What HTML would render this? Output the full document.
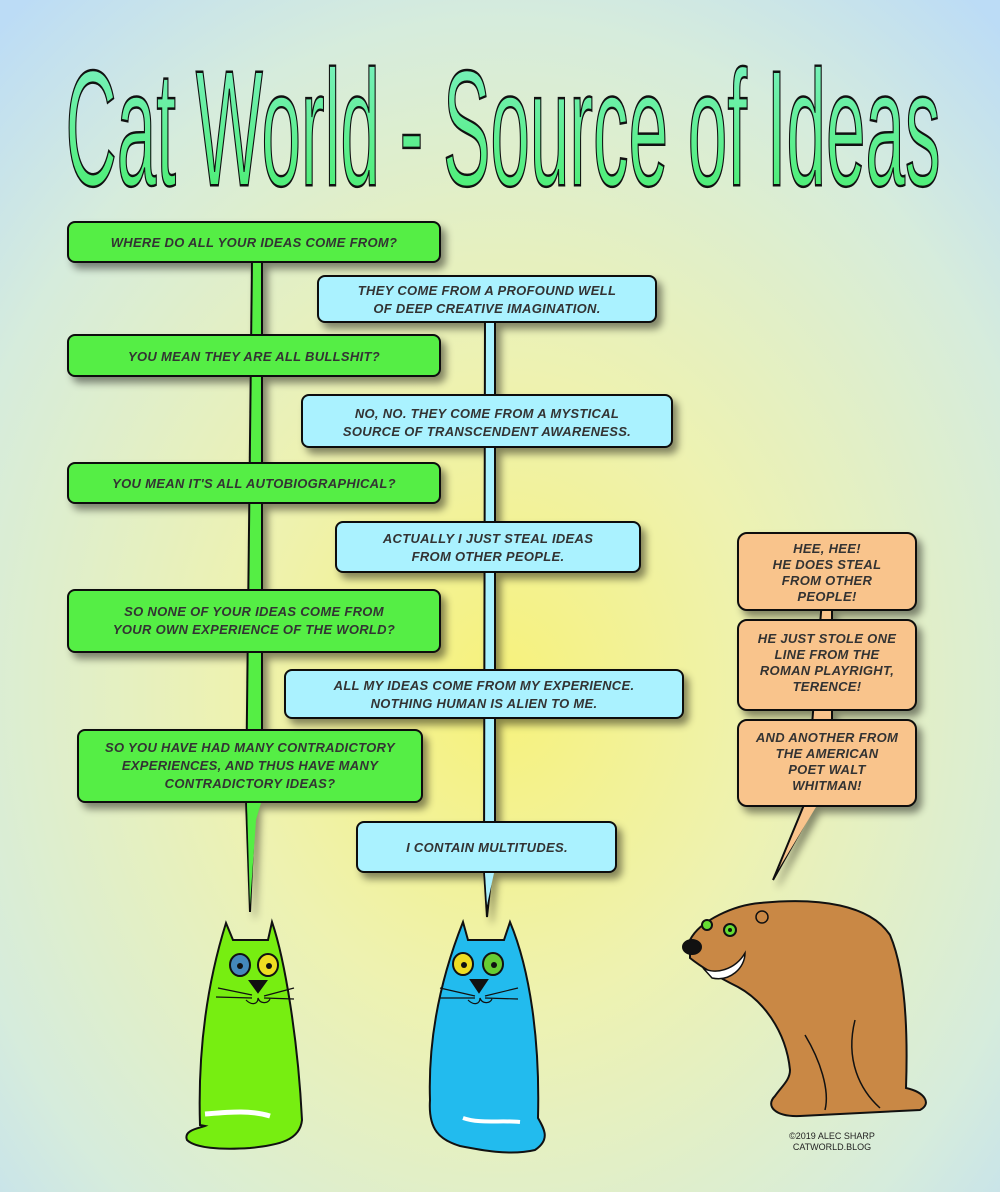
<!DOCTYPE html>
<html><head><meta charset="utf-8"><style>
html,body{margin:0;padding:0;width:1000px;height:1192px;overflow:hidden}
svg{display:block}
.t{font-family:"Liberation Sans",sans-serif;font-weight:bold;font-style:italic;font-size:13px;fill:#333;text-anchor:middle;letter-spacing:0.3px}
</style></head><body>
<svg width="1000" height="1192" viewBox="0 0 1000 1192" xmlns="http://www.w3.org/2000/svg">
<defs>
<radialGradient id="bg" cx="0.5" cy="0.58" r="0.75">
<stop offset="0" stop-color="#f7f27a"/>
<stop offset="0.35" stop-color="#eef2b0"/>
<stop offset="0.75" stop-color="#d6ecdc"/>
<stop offset="1" stop-color="#bcdcf6"/>
</radialGradient>
<linearGradient id="tg" x1="0" y1="0" x2="0" y2="1">
<stop offset="0" stop-color="#7ff0c8"/><stop offset="1" stop-color="#44ee66"/>
</linearGradient>
<filter id="sh" x="-10%" y="-10%" width="130%" height="140%">
<feDropShadow dx="5" dy="6" stdDeviation="4" flood-color="#000" flood-opacity="0.45"/>
</filter>
</defs>
<rect width="1000" height="1192" fill="url(#bg)"/>

<text x="503" y="185" font-family="'Liberation Sans Narrow','Liberation Sans',sans-serif" font-size="100" textLength="875" lengthAdjust="spacingAndGlyphs" text-anchor="middle" transform="translate(0,-120) scale(1,1.65)" style="transform-origin:0 0" fill="url(#tg)" stroke="#111" stroke-width="1.5">Cat World - Source of Ideas</text>

<!-- green column -->
<g filter="url(#sh)" fill="#55ee44" stroke="#111" stroke-width="2">
<path d="M252,260 L262,260 L262,800 L255,800 L250,912 L246,800 Z"/>
<rect x="68" y="222" width="372" height="40" rx="7"/>
<rect x="68" y="335" width="372" height="41" rx="7"/>
<rect x="68" y="463" width="372" height="40" rx="7"/>
<rect x="68" y="590" width="372" height="62" rx="7"/>
<rect x="78" y="730" width="344" height="72" rx="7"/>
</g>
<g fill="#55ee44"><rect x="253" y="263" width="8" height="71"/><rect x="253" y="377" width="8" height="85"/><rect x="253" y="504" width="8" height="85"/><rect x="253" y="653" width="8" height="76"/><path d="M247,803 L261,803 L256,820 L250,905 Z"/></g>

<!-- blue column -->
<g filter="url(#sh)" fill="#aaf2ff" stroke="#111" stroke-width="2">
<path d="M485,320 L495,320 L495,870 L492,870 L487,917 L484,870 Z"/>
<rect x="318" y="276" width="338" height="46" rx="7"/>
<rect x="302" y="395" width="370" height="52" rx="7"/>
<rect x="336" y="522" width="304" height="50" rx="7"/>
<rect x="285" y="670" width="398" height="48" rx="7"/>
<rect x="357" y="822" width="259" height="50" rx="7"/>
</g>
<g fill="#aaf2ff"><rect x="486" y="323" width="8" height="71"/><rect x="486" y="448" width="8" height="73"/><rect x="486" y="573" width="8" height="96"/><rect x="486" y="719" width="8" height="102"/><path d="M485,873 L494,873 L487,905 Z"/></g>

<!-- orange column -->
<g filter="url(#sh)" fill="#f9c48c" stroke="#111" stroke-width="2">
<path d="M822,600 L832,600 L832,800 L818,800 L773,880 L806,800 Z"/>
<rect x="738" y="533" width="178" height="77" rx="9"/>
<rect x="738" y="620" width="178" height="90" rx="9"/>
<rect x="738" y="720" width="178" height="86" rx="9"/>
</g>
<g fill="#f9c48c"><rect x="823" y="611" width="8" height="8"/><rect x="823" y="711" width="8" height="8"/><path d="M808,807 L816,807 L778,870 Z"/></g>

<!-- texts -->
<g class="t">
<text x="254" y="247">WHERE DO ALL YOUR IDEAS COME FROM?</text>
<text x="254" y="361">YOU MEAN THEY ARE ALL BULLSHIT?</text>
<text x="254" y="488">YOU MEAN IT'S ALL AUTOBIOGRAPHICAL?</text>
<text x="254" y="616">SO NONE OF YOUR IDEAS COME FROM</text>
<text x="254" y="634">YOUR OWN EXPERIENCE OF THE WORLD?</text>
<text x="250" y="752">SO YOU HAVE HAD MANY CONTRADICTORY</text>
<text x="250" y="770">EXPERIENCES, AND THUS HAVE MANY</text>
<text x="250" y="788">CONTRADICTORY IDEAS?</text>
<text x="487" y="295">THEY COME FROM A PROFOUND WELL</text>
<text x="487" y="313">OF DEEP CREATIVE IMAGINATION.</text>
<text x="487" y="418">NO, NO. THEY COME FROM A MYSTICAL</text>
<text x="487" y="436">SOURCE OF TRANSCENDENT AWARENESS.</text>
<text x="488" y="543">ACTUALLY I JUST STEAL IDEAS</text>
<text x="488" y="561">FROM OTHER PEOPLE.</text>
<text x="484" y="690">ALL MY IDEAS COME FROM MY EXPERIENCE.</text>
<text x="484" y="708">NOTHING HUMAN IS ALIEN TO ME.</text>
<text x="487" y="852">I CONTAIN MULTITUDES.</text>
<text x="827" y="553">HEE, HEE!</text>
<text x="827" y="569">HE DOES STEAL</text>
<text x="827" y="585">FROM OTHER</text>
<text x="827" y="601">PEOPLE!</text>
<text x="827" y="643">HE JUST STOLE ONE</text>
<text x="827" y="659">LINE FROM THE</text>
<text x="827" y="675">ROMAN PLAYRIGHT,</text>
<text x="827" y="691">TERENCE!</text>
<text x="827" y="742">AND ANOTHER FROM</text>
<text x="827" y="758">THE AMERICAN</text>
<text x="827" y="774">POET WALT</text>
<text x="827" y="790">WHITMAN!</text>
</g>

<!-- green cat -->
<g stroke="#111" stroke-width="2">
<path d="M226,923 L233,940 L268,940 L272,922 C285,960 298,1040 302,1120 C300,1140 280,1145 250,1148 C220,1150 195,1148 187,1140 C183,1130 200,1128 205,1126 L200,1125 C198,1060 205,990 226,923 Z" fill="#77ee11"/>
<path d="M205,1114 C230,1112 250,1110 270,1116" fill="none" stroke="#fff" stroke-width="5"/>
<ellipse cx="240" cy="965" rx="10" ry="11" fill="#4488bb"/><circle cx="240" cy="966" r="3" fill="#111" stroke="none"/>
<ellipse cx="268" cy="965" rx="10" ry="11" fill="#eedd22"/><circle cx="269" cy="966" r="3" fill="#111" stroke="none"/>
<path d="M250,981 L266,981 L258,992 Z" fill="#111"/>
<path d="M218,988 L252,995 M216,997 L252,998 M264,996 L294,988 M264,998 L294,999 M246,1000 C252,1006 258,1004 258,998 C260,1004 268,1004 270,999" fill="none" stroke-width="1.2"/>
</g>
<!-- blue cat -->
<g stroke="#111" stroke-width="2">
<path d="M463,922 L468,940 L504,940 L510,922 C530,970 540,1040 538,1118 C545,1130 550,1140 535,1150 C510,1156 480,1150 460,1146 C440,1140 428,1130 430,1100 C428,1040 440,980 463,922 Z" fill="#22bbee"/>
<path d="M463,1118 C480,1124 500,1120 520,1122" fill="none" stroke="#fff" stroke-width="4"/>
<ellipse cx="463" cy="964" rx="10" ry="11" fill="#eedd22"/><circle cx="464" cy="965" r="3" fill="#111" stroke="none"/>
<ellipse cx="493" cy="964" rx="10" ry="11" fill="#66cc33"/><circle cx="494" cy="965" r="3" fill="#111" stroke="none"/>
<path d="M471,980 L487,980 L479,992 Z" fill="#111"/>
<path d="M440,988 L475,996 M440,998 L475,998 M485,996 L518,988 M485,998 L518,999 M468,1000 C474,1006 480,1004 480,998 C482,1004 490,1004 492,999" fill="none" stroke-width="1.2"/>
</g>

<!-- bear -->
<g stroke="#111" stroke-width="2">
<path d="M690,940 C700,920 735,905 760,903 C820,897 870,905 890,935 C905,970 908,1030 906,1088 C925,1092 932,1104 920,1110 L800,1116 C775,1117 765,1106 775,1096 C782,1086 790,1080 790,1070 C786,1030 762,1000 738,987 C716,976 700,966 690,958 Z" fill="#c98845"/>
<path d="M805,1035 C820,1060 830,1090 825,1110 M855,1020 C845,1060 860,1090 880,1108" fill="none" stroke-width="1.5"/>
<circle cx="707" cy="925" r="5" fill="#66dd33"/><circle cx="730" cy="930" r="6" fill="#66dd33"/><circle cx="730" cy="930" r="2" fill="#111" stroke="none"/>
<circle cx="762" cy="917" r="6" fill="#c98845" stroke-width="1.5"/>
<ellipse cx="692" cy="947" rx="9" ry="7" fill="#111"/>
<path d="M703,968 C715,975 735,970 745,953 C745,968 730,982 712,978 Z" fill="#fff" stroke-width="1.5"/>
</g>
<text x="832" y="1139" font-family="'Liberation Sans',sans-serif" font-size="9" fill="#222" text-anchor="middle">©2019 ALEC SHARP</text>
<text x="832" y="1150" font-family="'Liberation Sans',sans-serif" font-size="9" fill="#222" text-anchor="middle">CATWORLD.BLOG</text>
</svg>
</body></html>
